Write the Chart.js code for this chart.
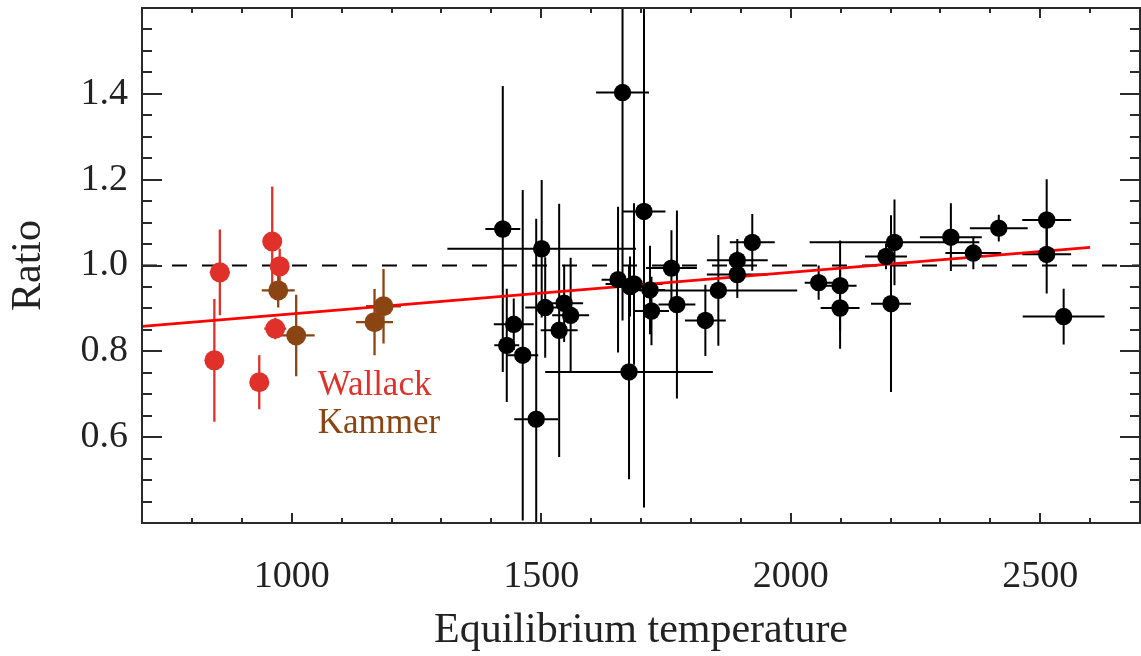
<!DOCTYPE html>
<html><head><meta charset="utf-8">
<script src="https://cdn.jsdelivr.net/npm/chart.js@4"></script>
<style>html,body{margin:0;padding:0;background:#fff}#wrap{width:1141px;height:656px;position:relative}</style>
</head><body><div id="wrap"><canvas id="c"></canvas></div>
<script>
// ---- data ----
const wallackTemp      = [845, 856, 935, 961, 967, 976];
const wallackRatio     = [0.779, 0.984, 0.728, 1.056, 0.853, 0.998];
const wallackTempErr   = [6, 20, 0, 0, 22, 6];
const wallackRatioErr  = [0.143, 0.100, 0.063, 0.128, 0.025, 0.041];

const kammerTemp       = [973, 1009, 1166, 1184];
const kammerRatio      = [0.942, 0.837, 0.868, 0.905];
const kammerTempErr    = [33, 37, 37, 35];
const kammerRatioErr   = [0.040, 0.095, 0.077, 0.087];

const otherTemp        = [1423, 1431, 1445, 1463, 1490, 1501, 1508, 1536, 1546, 1559,
                          1654, 1663, 1676, 1678, 1686, 1706, 1718, 1721, 1761, 1772,
                          1829, 1855, 1893, 1893, 1923, 2056, 2099, 2099, 2191, 2201,
                          2208, 2321, 2366, 2417, 2513, 2513, 2547];
const otherRatio       = [1.085, 0.814, 0.863, 0.791, 0.642, 1.039, 0.902, 0.849, 0.912, 0.884,
                          0.967, 1.403, 0.752, 0.951, 0.957, 1.126, 0.943, 0.894, 0.994, 0.909,
                          0.872, 0.942, 1.012, 0.979, 1.054, 0.960, 0.953, 0.901, 1.021, 0.911,
                          1.054, 1.066, 1.029, 1.087, 1.106, 1.026, 0.881];
const otherTempErr     = [35, 25, 40, 31, 44, 189, 40, 37, 38, 37,
                          33, 53, 168, 30, 57, 43, 30, 35, 51, 37,
                          41, 158, 61, 61, 45, 28, 33, 39, 42, 40,
                          170, 62, 56, 58, 49, 49, 82];
const otherRatioErr    = [0.333, 0.132, 0.060, 0.385, 0.467, 0.160, 0.117, 0.295, 0.090, 0.134,
                          0.170, 0.531, 0.250, 0.070, 0.188, 0.690, 0.103, 0.080, 0.088, 0.219,
                          0.083, 0.129, 0.050, 0.055, 0.066, 0.040, 0.105, 0.095, 0.030, 0.206,
                          0.100, 0.079, 0.038, 0.031, 0.095, 0.091, 0.065];

const fitTemp  = [700, 2600];
const fitRatio = [0.858, 1.042];
const unityTemp  = [700, 2700];
const unityRatio = [1.0, 1.0];

const xTickLabels = [1000, 1500, 2000, 2500];
const yTickLabels = [0.6, 0.8, 1.0, 1.2, 1.4];
const xTitle = 'Equilibrium temperature';
const yTitle = 'Ratio';

// ---- build ----
const RED = '#e0302a', BROWN = '#8b4513', BLACK = '#000000', AXIS = '#2a2a2a';
const SERIF = '"Liberation Serif", "DejaVu Serif", serif';
const pts = (xs, ys) => xs.map((x, i) => ({x: x, y: ys[i]}));

function pointSet(label, xs, ys, xe, ye, color, r, lw) {
  return {
    type: 'scatter', label: label, data: pts(xs, ys), xErr: xe, yErr: ye,
    backgroundColor: color, borderColor: color, pointRadius: r, pointBorderWidth: 0,
    order: 0, errColor: color, errWidth: lw
  };
}

const errorBars = {
  id: 'errorBars',
  beforeDatasetsDraw(chart) {
    const ctx = chart.ctx, xs = chart.scales.x, ys = chart.scales.y, a = chart.chartArea;
    ctx.save();
    ctx.beginPath(); ctx.rect(a.left, a.top, a.right - a.left, a.bottom - a.top); ctx.clip();
    chart.data.datasets.forEach(ds => {
      if (!ds.xErr) return;
      ctx.strokeStyle = ds.errColor; ctx.lineWidth = ds.errWidth;
      ds.data.forEach((p, i) => {
        const ex = ds.xErr[i], ey = ds.yErr[i];
        ctx.beginPath();
        if (ex > 0) {
          const py = ys.getPixelForValue(p.y);
          ctx.moveTo(xs.getPixelForValue(p.x - ex), py);
          ctx.lineTo(xs.getPixelForValue(p.x + ex), py);
        }
        if (ey > 0) {
          const px = xs.getPixelForValue(p.x);
          ctx.moveTo(px, ys.getPixelForValue(p.y - ey));
          ctx.lineTo(px, ys.getPixelForValue(p.y + ey));
        }
        ctx.stroke();
      });
    });
    ctx.restore();
  }
};

const frame = {
  id: 'frame',
  afterDraw(chart) {
    const ctx = chart.ctx, xs = chart.scales.x, ys = chart.scales.y, a = chart.chartArea;
    ctx.save();
    ctx.strokeStyle = AXIS; ctx.lineWidth = 2;
    ctx.strokeRect(a.left, a.top, a.right - a.left, a.bottom - a.top);
    ctx.beginPath();
    xs.ticks.forEach(t => {
      const px = Math.round(xs.getPixelForValue(t.value));
      const len = (Math.round(t.value) % 500 === 0) ? 10 : 5;
      ctx.moveTo(px, a.bottom); ctx.lineTo(px, a.bottom - len);
      ctx.moveTo(px, a.top); ctx.lineTo(px, a.top + len);
    });
    ys.ticks.forEach(t => {
      const py = Math.round(ys.getPixelForValue(t.value));
      const len = (Math.round(t.value * 100) % 20 === 0) ? 20 : 10;
      ctx.moveTo(a.left, py); ctx.lineTo(a.left + len, py);
      ctx.moveTo(a.right, py); ctx.lineTo(a.right - len, py);
    });
    ctx.stroke();

    // x-axis title
    ctx.fillStyle = '#222';
    ctx.font = '42px ' + SERIF;
    ctx.textAlign = 'center'; ctx.textBaseline = 'alphabetic';
    ctx.fillText(xTitle, (a.left + a.right) / 2, 642);

    // annotation labels
    ctx.font = '35px ' + SERIF;
    ctx.textAlign = 'left'; ctx.textBaseline = 'alphabetic';
    ctx.fillStyle = RED;
    ctx.fillText('Wallack', xs.getPixelForValue(1052), ys.getPixelForValue(0.698));
    ctx.fillStyle = BROWN;
    ctx.fillText('Kammer', xs.getPixelForValue(1052), ys.getPixelForValue(0.610));
    ctx.restore();
  }
};

const noPad = s => { s.paddingLeft = 0; s.paddingRight = 0; s.paddingTop = 0; s.paddingBottom = 0; };

const chart = new Chart(document.getElementById('c'), {
  type: 'scatter',
  data: {
    datasets: [
      pointSet('Wallack', wallackTemp, wallackRatio, wallackTempErr, wallackRatioErr, RED, 10, 2.3),
      pointSet('Kammer', kammerTemp, kammerRatio, kammerTempErr, kammerRatioErr, BROWN, 10, 2.3),
      pointSet('Other', otherTemp, otherRatio, otherTempErr, otherRatioErr, BLACK, 8.7, 2),
      { type: 'line', label: 'fit', data: pts(fitTemp, fitRatio), borderColor: '#ff0000',
        borderWidth: 2.8, pointRadius: 0, fill: false, order: 1 },
      { type: 'line', label: 'unity', data: pts(unityTemp, unityRatio), borderColor: '#000',
        borderWidth: 2, borderDash: [15, 15], pointRadius: 0, fill: false, order: 2 }
    ]
  },
  options: {
    responsive: true, maintainAspectRatio: false, animation: false, devicePixelRatio: 1,
    layout: { autoPadding: false, padding: { top: 8, right: 1, bottom: 0, left: 0 } },
    plugins: { legend: { display: false }, tooltip: { enabled: false } },
    scales: {
      x: {
        type: 'linear', min: 700, max: 2700,
        grid: { display: false, drawTicks: false }, border: { display: false },
        ticks: {
          stepSize: 100, autoSkip: false, maxRotation: 0, padding: 31,
          color: '#222', font: { family: SERIF, size: 38 },
          callback: v => xTickLabels.includes(Math.round(v)) ? String(Math.round(v)) : ''
        },
        title: { display: false, text: xTitle },
        afterFit: s => { s.height = 133; noPad(s); }
      },
      y: {
        type: 'linear', min: 0.4, max: 1.6,
        grid: { display: false, drawTicks: false }, border: { display: false },
        ticks: {
          stepSize: 0.05, autoSkip: false, padding: 14,
          color: '#222', font: { family: SERIF, size: 38 },
          callback: v => {
            const r = Math.round(v * 10) / 10;
            return (Math.abs(v - r) < 1e-6 && yTickLabels.some(t => Math.abs(t - r) < 1e-6)) ? r.toFixed(1) : '';
          }
        },
        title: { display: true, text: yTitle, color: '#222',
                 font: { family: SERIF, size: 42 }, padding: { top: 4, bottom: 0 } },
        afterFit: s => { s.width = 142; noPad(s); }
      }
    }
  },
  plugins: [errorBars, frame]
});
</script>
</body></html>
